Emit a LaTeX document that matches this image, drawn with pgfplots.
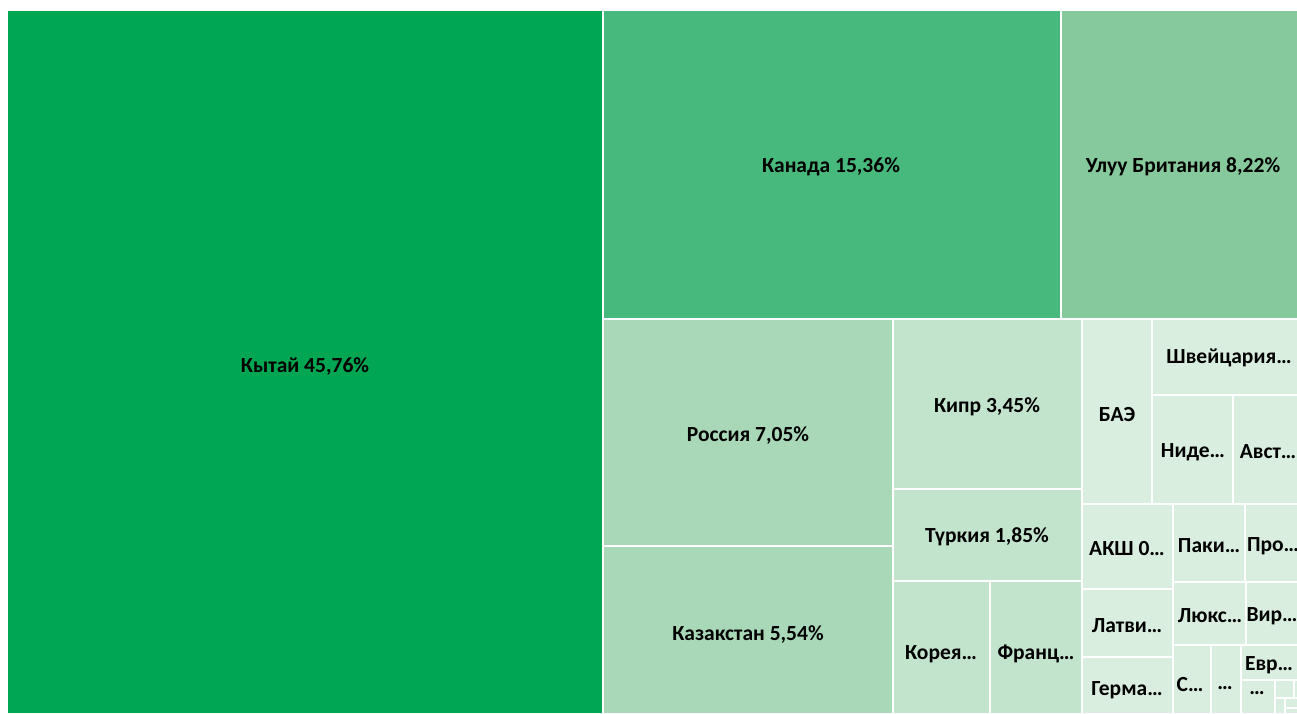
\documentclass[border=0pt]{standalone}
\usepackage{fontspec}
\setmainfont{Carlito}
\usepackage{pgfplots}
\pgfplotsset{compat=1.18}
\definecolor{c1}{HTML}{00A651}
\definecolor{c2}{HTML}{48B97C}
\definecolor{c3}{HTML}{86C99C}
\definecolor{c4}{HTML}{A9D8B8}
\definecolor{c5}{HTML}{C2E3CC}
\definecolor{c6}{HTML}{D9EEDF}
\tikzset{lbl/.style={font=\fontsize{10.8}{13}\selectfont\bfseries, text=black, inner sep=0pt}}
\newcommand{\rect}[5]{\addplot[fill=#5, draw=white, line width=1bp] coordinates {(#1,#2) (#3,#2) (#3,#4) (#1,#4) (#1,#2)};}
\begin{document}
\begin{tikzpicture}
\begin{axis}[
  x=0.5bp, y=0.5bp, y dir=reverse,
  xmin=0, xmax=1297, ymin=0, ymax=713,
  hide axis, clip=false, no marks
]
% rectangles: x1 y1 x2 y2 (pixels)
\rect{7}{10}{603}{714}{c1}
\rect{603}{10}{1061}{319}{c2}
\rect{1061}{10}{1298}{319}{c3}
\rect{603}{319}{893}{546}{c4}
\rect{603}{546}{893}{714}{c4}
\rect{893}{319}{1082}{489}{c5}
\rect{893}{489}{1082}{581}{c5}
\rect{893}{581}{990}{714}{c5}
\rect{990}{581}{1082}{714}{c5}
\rect{1082}{319}{1152}{504}{c6}
\rect{1152}{319}{1298}{395}{c6}
\rect{1152}{395}{1233}{504}{c6}
\rect{1233}{395}{1298}{504}{c6}
\rect{1082}{504}{1173}{589}{c6}
\rect{1082}{589}{1173}{657}{c6}
\rect{1082}{657}{1173}{714}{c6}
\rect{1173}{504}{1245}{582}{c6}
\rect{1245}{504}{1298}{582}{c6}
\rect{1173}{582}{1246}{645}{c6}
\rect{1246}{582}{1298}{645}{c6}
\rect{1173}{645}{1211}{714}{c6}
\rect{1211}{645}{1241}{714}{c6}
\rect{1241}{645}{1298}{680}{c6}
\rect{1241}{680}{1275}{714}{c6}
\rect{1275}{680}{1294}{698}{c6}
\rect{1294}{680}{1298}{698}{c6}
\rect{1275}{698}{1285}{714}{c6}
\rect{1285}{698}{1298}{708}{c6}
\rect{1285}{708}{1298}{714}{c6}
% labels
\node[lbl] at (axis cs:305,367) {Кытай 45,76\%};
\node[lbl] at (axis cs:831,167) {Канада 15,36\%};
\node[lbl] at (axis cs:1183,167) {Улуу Британия 8,22\%};
\node[lbl] at (axis cs:748,436) {Россия 7,05\%};
\node[lbl] at (axis cs:748,635) {Казакстан 5,54\%};
\node[lbl] at (axis cs:987,407) {Кипр 3,45\%};
\node[lbl] at (axis cs:987,537) {Түркия 1,85\%};
\node[lbl] at (axis cs:941,654) {Корея…};
\node[lbl] at (axis cs:1036,654) {Франц…};
\node[lbl] at (axis cs:1117,415) {БАЭ};
\node[lbl] at (axis cs:1229,358) {Швейцария…};
\node[lbl] at (axis cs:1193,452) {Ниде…};
\node[lbl] at (axis cs:1268,452) {Авст…};
\node[lbl] at (axis cs:1127,549) {АКШ 0…};
\node[lbl] at (axis cs:1209,546) {Паки…};
\node[lbl] at (axis cs:1273,546) {Про…};
\node[lbl] at (axis cs:1127,626) {Латви…};
\node[lbl] at (axis cs:1210,616) {Люкс…};
\node[lbl] at (axis cs:1272,616) {Вир…};
\node[lbl] at (axis cs:1127,690) {Герма…};
\node[lbl] at (axis cs:1190,685) {С…};
\node[lbl] at (axis cs:1225,688) {…};
\node[lbl] at (axis cs:1269,665) {Евр…};
\node[lbl] at (axis cs:1257,693) {…};
\end{axis}
\pgfresetboundingbox
\path (current axis.south west) rectangle (current axis.north east);
\end{tikzpicture}
\end{document}
